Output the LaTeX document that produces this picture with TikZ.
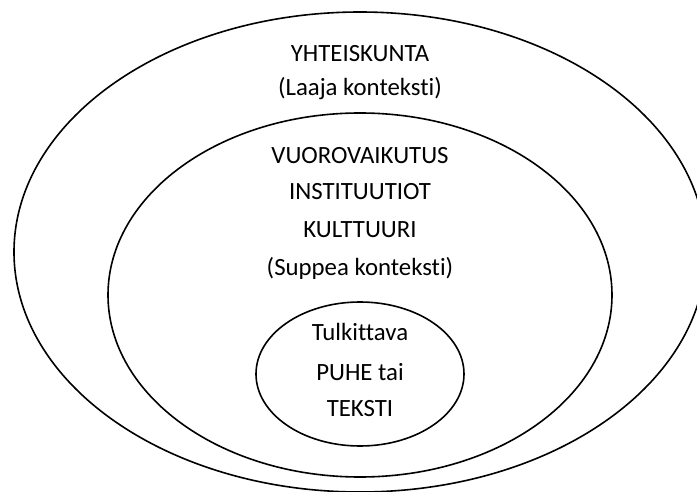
\documentclass[tikz,border=0pt]{standalone}
\usepackage{fontspec}
\setmainfont{Carlito}[Ligatures=NoCommon,RawFeature={-liga;-clig;-dlig}]
\usetikzlibrary{shapes.geometric}
\begin{document}
\begin{tikzpicture}[x=1pt,y=-1pt,
  ring/.style={draw=black, line width=1.6pt, ellipse, inner sep=0pt},
  label/.style={anchor=base, inner sep=0pt, font=\fontsize{24.8}{29}\selectfont}]
\useasboundingbox (0,0) rectangle (697,492);
\node[ring, minimum width=692pt, minimum height=480pt] (outer) at (360,252) {};
\node[ring, minimum width=504pt, minimum height=364pt] (middle) at (360,295) {};
\node[ring, minimum width=208pt, minimum height=144pt] (inner) at (360,374) {};
\node[label] (yht) at (360,62) {YHTEISKUNTA};
\node[label] (laaja) at (360,96) {(Laaja konteksti)};
\node[label] (vuoro) at (360,164) {VUOROVAIKUTUS};
\node[label] (inst) at (360,200) {INSTITUUTIOT};
\node[label] (kult) at (360,238) {KULTTUURI};
\node[label] (suppea) at (360,276) {(Suppea konteksti)};
\node[label] (tulk) at (360,340) {Tulkittava};
\node[label] (puhe) at (360,380) {PUHE tai};
\node[label] (teksti) at (360,416) {TEKSTI};
\end{tikzpicture}
\end{document}
